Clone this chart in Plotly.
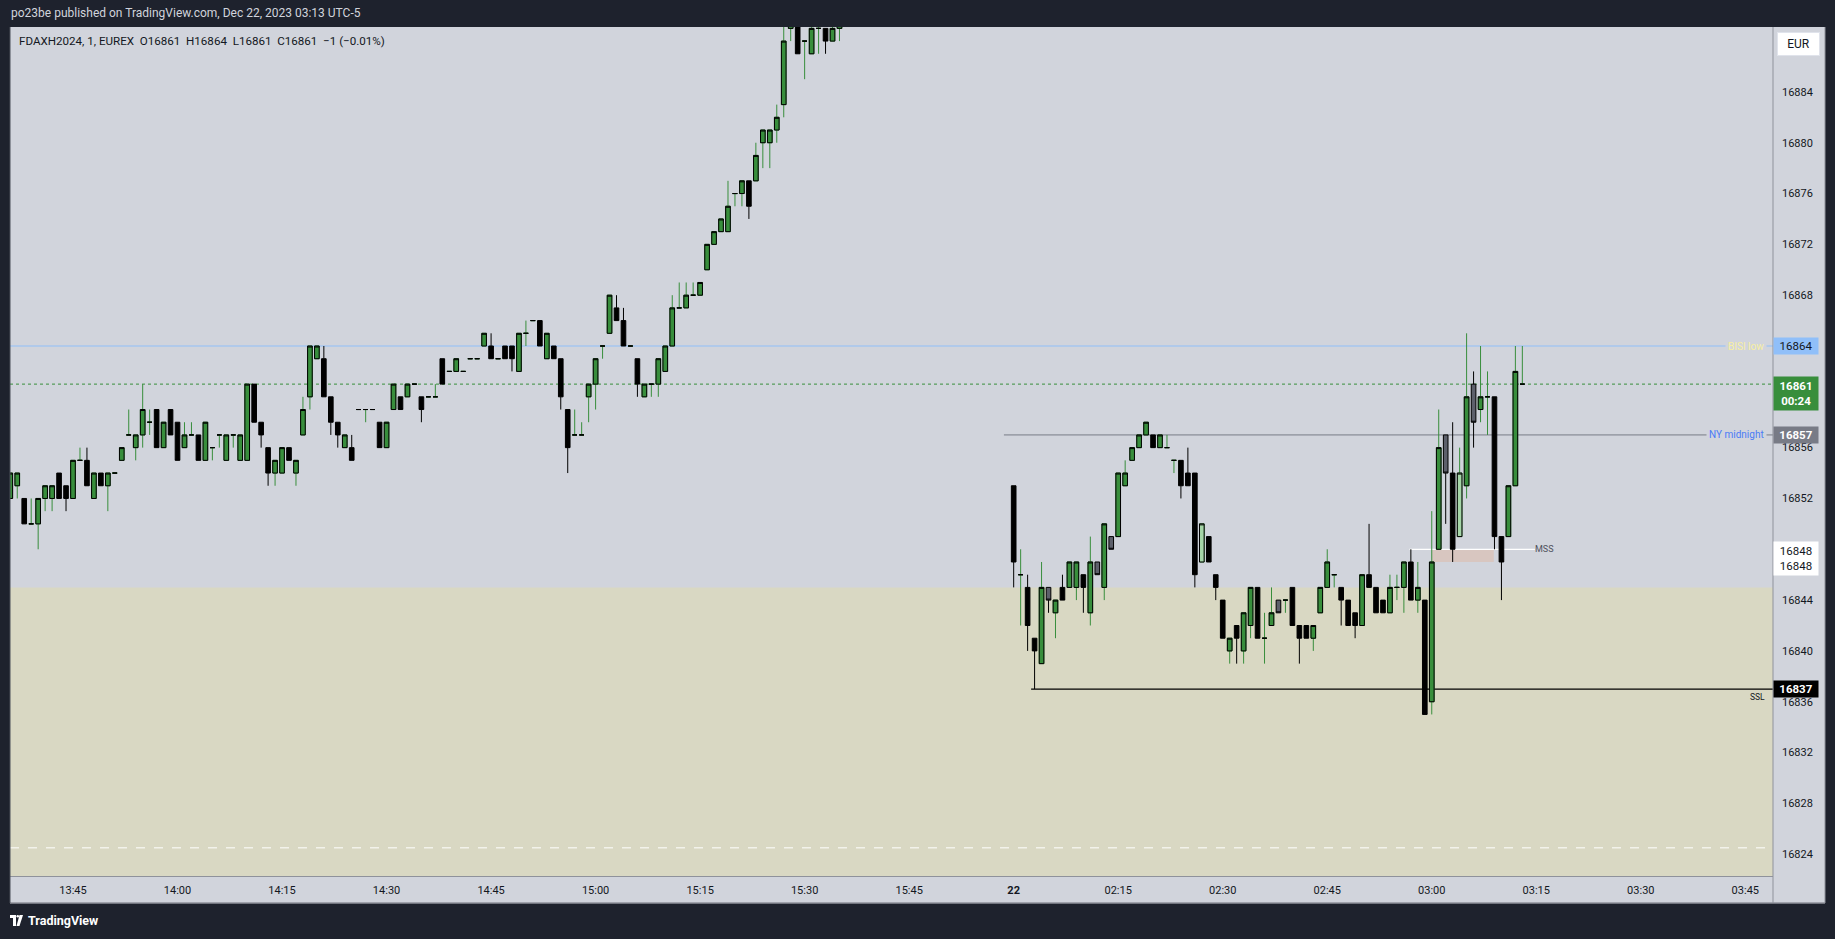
import plotly.graph_objects as go

# ---------------- DATA ----------------
# Dec 21 1-minute bars (FDAXH2024), first visible bar 13:36
o21 = [16852,16853,16852,16850,16850,16852,16852,16854,16853,16852,
       16855,16855,16852,16854,16853,16854,16855,16857,16856,16857,
       16858,16859,16856,16859,16858,16856,16857,16857,16855,16856,
       16857,16855,16857,16855,16855,16861,16858,16856,16854,16854,
       16856,16854,16857,16860,16863,16863,16860,16858,16856,16856,
       16859,16859,16859,16858,16856,16859,16860,16860,16861,16860,
       16860,16860,16863,16862,16862,16862,16863,16863,16864,16864,
       16863,16864,16864,16862,16865,16866,16866,16863,16864,16863,
       16859,16857,16857,16860,16861,16864,16865,16867,16866,16864,
       16863,16860,16861,16861,16862,16864,16867,16867,16868,16868,
       16870,16872,16873,16873,16876,16876,16877,16877,16880,16880,
       16881,16883,16889,16890,16888,16887,16889,16889,16888,16889]
h21 = [16854,16854,16852,16852,16852,16853,16853,16854,16853,16855,
       16856,16856,16854,16854,16854,16854,16856,16859,16857,16861,
       16859,16859,16858,16859,16858,16858,16858,16857,16858,16856,
       16857,16857,16857,16857,16861,16861,16858,16856,16855,16856,
       16856,16855,16860,16864,16864,16864,16860,16858,16857,16857,
       16859,16859,16859,16858,16858,16861,16860,16861,16861,16860,
       16860,16861,16863,16862,16863,16862,16863,16863,16865,16865,
       16863,16864,16864,16865,16866,16866,16866,16865,16864,16863,
       16859,16859,16858,16861,16863,16864,16868,16868,16867,16864,
       16863,16861,16861,16863,16864,16868,16869,16869,16869,16869,
       16872,16873,16874,16877,16876,16877,16877,16880,16881,16881,
       16883,16890,16892,16891,16888,16890,16890,16889,16890,16891]
l21 = [16852,16852,16850,16850,16848,16851,16851,16852,16851,16852,
       16855,16853,16852,16853,16851,16854,16855,16857,16855,16856,
       16857,16856,16856,16857,16855,16856,16857,16855,16855,16855,
       16856,16855,16856,16855,16855,16858,16856,16853,16853,16854,
       16855,16853,16857,16859,16863,16860,16857,16856,16856,16855,
       16859,16858,16859,16856,16856,16859,16859,16860,16861,16858,
       16860,16860,16861,16862,16862,16862,16863,16863,16864,16863,
       16863,16863,16862,16862,16864,16866,16864,16863,16863,16859,
       16854,16857,16857,16858,16859,16863,16865,16866,16864,16864,
       16860,16860,16860,16860,16862,16864,16867,16867,16868,16868,
       16870,16872,16873,16873,16875,16875,16874,16877,16878,16878,
       16880,16882,16888,16887,16885,16887,16887,16887,16888,16888]
c21 = [16854,16854,16850,16850,16852,16853,16853,16852,16852,16855,
       16855,16853,16854,16853,16854,16854,16856,16857,16857,16859,
       16858,16856,16858,16857,16855,16857,16857,16855,16858,16856,
       16857,16857,16857,16857,16861,16858,16857,16854,16855,16856,
       16855,16855,16859,16864,16864,16860,16858,16857,16857,16855,
       16859,16859,16859,16856,16858,16861,16859,16861,16861,16859,
       16860,16860,16861,16862,16863,16862,16863,16863,16865,16863,
       16863,16863,16863,16865,16865,16866,16864,16865,16863,16860,
       16856,16857,16857,16861,16863,16864,16868,16866,16864,16864,
       16861,16861,16861,16863,16864,16867,16867,16868,16868,16869,
       16872,16873,16874,16875,16876,16877,16875,16879,16881,16881,
       16882,16888,16891,16887,16888,16889,16889,16888,16889,16891]

# Dec 22 1-minute bars, 02:00 .. 03:13
o22 = [16853,16846,16845,16841,16839,16845,16843,16845,16845,16845,
       16846,16843,16847,16845,16849,16849,16853,16855,16856,16857,
       16857,16856,16856,16855,16855,16854,16854,16847,16849,16846,
       16844,16840,16842,16840,16842,16845,16841,16842,16844,16844,
       16845,16842,16842,16841,16843,16845,16846,16845,16844,16843,
       16842,16846,16845,16844,16843,16845,16845,16847,16844,16844,
       16836,16848,16857,16854,16849,16853,16861,16859,16860,16860,
       16849,16849,16853,16861]
h22 = [16853,16848,16846,16841,16847,16845,16844,16846,16847,16847,
       16846,16849,16847,16850,16849,16854,16855,16856,16857,16858,
       16857,16857,16857,16855,16855,16856,16854,16850,16849,16846,
       16844,16841,16842,16843,16845,16845,16843,16845,16844,16844,
       16845,16842,16842,16842,16845,16848,16846,16845,16844,16843,
       16846,16850,16845,16844,16846,16846,16847,16848,16847,16844,
       16851,16859,16857,16858,16856,16865,16862,16864,16862,16860,
       16849,16853,16864,16864]
l22 = [16845,16842,16840,16837,16839,16843,16841,16844,16845,16844,
       16843,16842,16846,16844,16848,16849,16853,16855,16856,16857,
       16856,16856,16856,16854,16852,16853,16845,16847,16847,16844,
       16841,16839,16839,16839,16841,16841,16839,16842,16843,16843,
       16842,16839,16841,16840,16843,16845,16845,16842,16842,16841,
       16842,16845,16843,16843,16843,16844,16843,16844,16843,16835,
       16835,16848,16850,16847,16849,16852,16856,16858,16857,16848,
       16844,16849,16853,16861]
c22 = [16847,16846,16842,16840,16845,16844,16844,16844,16847,16847,
       16845,16847,16846,16850,16848,16854,16854,16856,16857,16858,
       16856,16857,16856,16855,16853,16853,16846,16850,16847,16845,
       16841,16841,16841,16843,16845,16841,16841,16843,16843,16844,
       16842,16841,16841,16842,16845,16847,16846,16844,16842,16842,
       16846,16845,16843,16843,16845,16845,16847,16844,16845,16835,
       16847,16856,16854,16848,16854,16860,16858,16860,16860,16849,
       16847,16853,16862,16861]

START_21 = -9      # 13:36 is 9 bars before 13:45
START_22 = 135     # first bar of Dec 22 (02:00)
gray_bars = [140, 147, 149, 173, 197, 201]
light_bars = [162, 199]

tick_text = ["13:45", "14:00", "14:15", "14:30", "14:45", "15:00", "15:15", "15:30",
             "15:45", "<b>22</b>", "02:15", "02:30", "02:45", "03:00", "03:15", "03:30", "03:45"]
# 16848 and 16860 sit fully under the price labels in the reference
price_ticks = [16824, 16828, 16832, 16836, 16840, 16844, 16852, 16856,
               16864, 16868, 16872, 16876, 16880, 16884]

bisi_low = 16864
last_price = 16861
ny_midnight = 16857
mss_level = 16848
ssl_level = 16837
zone_top = 16845
dashed_level = 16824.5
fvg_low, fvg_high = 16847, 16848

# ---------------- STYLE ----------------
BG = "#d1d4dc"
DARK = "#1e222d"
GREEN = "#388e3c"
TXT = "#131722"
FONT = "Roboto, Arial, sans-serif"

W, H = 1835, 939
L, R, T, B = 10, 1773, 27, 876   # plot area in px


def px(xp):
    return (xp - L) / (R - L)


def py(yp):
    return (B - yp) / (B - T)


xs = list(range(START_21, START_21 + len(o21))) + list(range(START_22, START_22 + len(o22)))
O = o21 + o22
Hh = h21 + h22
Ll = l21 + l22
C = c21 + c22


def pick(idx):
    return ([xs[i] for i in idx], [O[i] for i in idx], [Hh[i] for i in idx],
            [Ll[i] for i in idx], [C[i] for i in idx])


def candle(x, o, h, l, c, line_col, fill_col):
    return go.Candlestick(
        x=x, open=o, high=h, low=l, close=c,
        increasing=dict(line=dict(color=line_col, width=1), fillcolor=fill_col),
        decreasing=dict(line=dict(color=line_col, width=1), fillcolor=fill_col),
        whiskerwidth=0, showlegend=False, hoverinfo="skip")


n = len(xs)
green_idx = [i for i in range(n) if C[i] >= O[i] and xs[i] not in gray_bars]
black_idx = [i for i in range(n) if C[i] < O[i] and xs[i] not in gray_bars]
gray_idx = [i for i in range(n) if xs[i] in gray_bars]
light_idx = [i for i in range(n) if xs[i] in light_bars]
gbody_idx = [i for i in green_idx if xs[i] not in light_bars]

fig = go.Figure()
# green wicks
x, o, h, l, c = pick(green_idx)
fig.add_trace(candle(x, o, h, l, c, GREEN, GREEN))
# green bodies with black outline
x, o, h, l, c = pick(gbody_idx)
fig.add_trace(candle(x, o, [max(a, b) for a, b in zip(o, c)], [min(a, b) for a, b in zip(o, c)], c, "#000000", GREEN))
# light green bodies
x, o, h, l, c = pick(light_idx)
fig.add_trace(candle(x, o, [max(a, b) for a, b in zip(o, c)], [min(a, b) for a, b in zip(o, c)], c, "#000000", "#a5d6a7"))
# black candles
x, o, h, l, c = pick(black_idx)
fig.add_trace(candle(x, o, h, l, c, "#000000", "#000000"))
# gray candles
x, o, h, l, c = pick(gray_idx)
fig.add_trace(candle(x, o, h, l, c, "#000000", "#5d606b"))

x_left = (L - 73) / 6.968
x_right = (R - 73) / 6.968
y_top = bisi_low + (346 - T) / 12.705
y_bot = bisi_low - (B - 346) / 12.705

shapes = [
    # chart panel background (incl. axes)
    dict(type="rect", xref="paper", yref="paper", x0=px(L), x1=px(1825), y0=py(903), y1=py(T),
         fillcolor=BG, line=dict(width=0), layer="below"),
    # discount zone
    dict(type="rect", xref="paper", yref="y", x0=0, x1=1, y0=y_bot - 5, y1=zone_top,
         fillcolor="#d9d8c3", line=dict(width=0), layer="below"),
    # dashed white level
    dict(type="line", xref="paper", yref="y", x0=0, x1=1, y0=dashed_level, y1=dashed_level,
         line=dict(color="#ffffff", width=1, dash="dash"), layer="below"),
    # BISI low
    dict(type="line", xref="paper", yref="y", x0=0, x1=1, y0=bisi_low, y1=bisi_low,
         line=dict(color="#90bff9", width=1), layer="below"),
    # last price dotted
    dict(type="line", xref="paper", yref="y", x0=0, x1=1, y0=last_price, y1=last_price,
         line=dict(color=GREEN, width=1, dash="dot"), layer="below"),
    # NY midnight
    dict(type="line", xref="x", yref="y", x0=133.6, x1=x_right, y0=ny_midnight, y1=ny_midnight,
         line=dict(color="#787b86", width=1), layer="below"),
    # SSL
    dict(type="line", xref="x", yref="y", x0=137.5, x1=x_right, y0=ssl_level, y1=ssl_level,
         line=dict(color="#000000", width=1.3), layer="below"),
    # FVG box
    dict(type="rect", xref="x", yref="y", x0=195.0, x1=203.9, y0=fvg_low, y1=fvg_high,
         fillcolor="#d8c6c0", line=dict(width=0), layer="below"),
    # MSS line
    dict(type="line", xref="x", yref="y", x0=191.8, x1=209.8, y0=mss_level, y1=mss_level,
         line=dict(color="#ffffff", width=1.3), layer="below"),
    # panel borders
    dict(type="line", xref="paper", yref="paper", x0=1, x1=1, y0=py(903), y1=1,
         line=dict(color="#8f929b", width=1)),
    dict(type="line", xref="paper", yref="paper", x0=px(L), x1=px(1825), y0=py(903), y1=py(903),
         line=dict(color="#8f929b", width=1.5)),
    dict(type="line", xref="paper", yref="paper", x0=px(1825), x1=px(1825), y0=py(903), y1=1,
         line=dict(color="#8f929b", width=1)),
    dict(type="line", xref="paper", yref="paper", x0=px(L), x1=px(L), y0=py(903), y1=1,
         line=dict(color="#4a4e59", width=1)),
    # TradingView logo
    dict(type="rect", xref="paper", yref="paper", x0=px(10), x1=px(16), y0=py(918), y1=py(915),
         fillcolor="#ffffff", line=dict(width=0)),
    dict(type="rect", xref="paper", yref="paper", x0=px(13), x1=px(16), y0=py(926), y1=py(915),
         fillcolor="#ffffff", line=dict(width=0)),
    dict(type="circle", xref="paper", yref="paper", x0=px(16.5), x1=px(19), y0=py(917.5), y1=py(915),
         fillcolor="#ffffff", line=dict(width=0)),
    dict(type="path", xref="paper", yref="paper",
         path=f"M {px(19.5)},{py(915)} L {px(23)},{py(915)} L {px(19.5)},{py(926)} L {px(16.5)},{py(926)} Z",
         fillcolor="#ffffff", line=dict(width=0)),
]


def axis_label(price, text, bg, fg, lines=1, bold=False, anchor="middle", shift=0):
    t = f"<b>{text}</b>" if bold else text
    return dict(xref="paper", yref="y", x=1, y=price, xanchor="left", yanchor=anchor, yshift=shift,
                text=t, showarrow=False, bgcolor=bg, width=44, height=16 * lines + (lines - 1),
                borderpad=0, font=dict(family=FONT, size=11.5, color=fg), align="center")


annotations = [
    dict(xref="paper", yref="paper", x=px(9), y=py(13), xanchor="left", yanchor="middle",
         text="po23be published on TradingView.com, Dec 22, 2023 03:13 UTC-5", showarrow=False,
         font=dict(family=FONT, size=12, color="#d1d4dc")),
    dict(xref="paper", yref="paper", x=px(17), y=py(41), xanchor="left", yanchor="middle",
         text="FDAXH2024, 1, EUREX  O16861  H16864  L16861  C16861  \u22121 (\u22120.01%)".replace("  ", "\u00a0\u00a0"),
         showarrow=False, font=dict(family=FONT, size=11.6, color=TXT)),
    dict(xref="paper", yref="paper", x=px(26), y=py(921), xanchor="left", yanchor="middle",
         text="<b>TradingView</b>", showarrow=False, font=dict(family=FONT, size=12.5, color="#ffffff")),
    # EUR box
    dict(xref="paper", yref="paper", x=px(1777), y=py(32), xanchor="left", yanchor="top",
         text="EUR", showarrow=False, bgcolor="#ffffff", bordercolor="#e0e3eb", borderwidth=1,
         width=41, height=22, borderpad=0, font=dict(family=FONT, size=12, color=TXT)),
    # line labels
    dict(xref="paper", yref="y", x=px(1767), y=bisi_low, xanchor="right", yanchor="middle",
         text="BISI low", showarrow=False, bgcolor=BG, borderpad=2,
         font=dict(family=FONT, size=10, color="#f7efa0")),
    dict(xref="paper", yref="y", x=px(1767), y=ny_midnight, xanchor="right", yanchor="middle",
         text="NY midnight", showarrow=False, bgcolor=BG, borderpad=2,
         font=dict(family=FONT, size=10, color="#4a7bf7")),
    dict(xref="x", yref="y", x=211.2, y=mss_level, xanchor="center", yanchor="middle",
         text="MSS", showarrow=False, font=dict(family=FONT, size=9, color="#50535e")),
    dict(xref="paper", yref="y", x=px(1767), y=ssl_level, xanchor="right", yanchor="middle", yshift=-8,
         text="SSL", showarrow=False, font=dict(family=FONT, size=8.5, color=TXT)),
    # price-axis labels
    axis_label(bisi_low, "16864", "#90bff9", TXT),
    axis_label(last_price, "16861<br>00:24", GREEN, "#ffffff", lines=2, bold=True, anchor="top", shift=8),
    axis_label(ny_midnight, "16857", "#787b86", "#ffffff", bold=True),
    axis_label(mss_level, "16848<br>16848", "#ffffff", TXT, lines=2, anchor="top", shift=8),
    axis_label(ssl_level, "16837", "#000000", "#ffffff", bold=True),
]

fig.update_layout(
    width=W, height=H,
    margin=dict(l=L, r=W - R, t=T, b=H - B, pad=0),
    paper_bgcolor=DARK, plot_bgcolor=BG,
    showlegend=False, hovermode=False,
    boxgap=0.05, boxgroupgap=0.3,
    shapes=shapes, annotations=annotations,
    font=dict(family=FONT),
    xaxis=dict(range=[x_left, x_right], tickmode="array",
               tickvals=[15 * i for i in range(len(tick_text))], ticktext=tick_text,
               showgrid=False, zeroline=False, showline=True, linecolor="#8f929b", linewidth=1,
               ticks="", ticklabelstandoff=4, tickfont=dict(family=FONT, size=11, color=TXT),
               rangeslider=dict(visible=False), fixedrange=True),
    yaxis=dict(range=[y_bot, y_top], side="right", tickmode="array", tickvals=price_ticks,
               ticktext=[str(p) for p in price_ticks],
               showgrid=False, zeroline=False, showline=False,
               ticks="", ticklabelstandoff=8, tickfont=dict(family=FONT, size=11, color=TXT),
               fixedrange=True),
)

fig.write_html("out.html", config={"displayModeBar": False},
               post_script="document.body.style.margin='0';document.body.style.overflow='hidden';")
